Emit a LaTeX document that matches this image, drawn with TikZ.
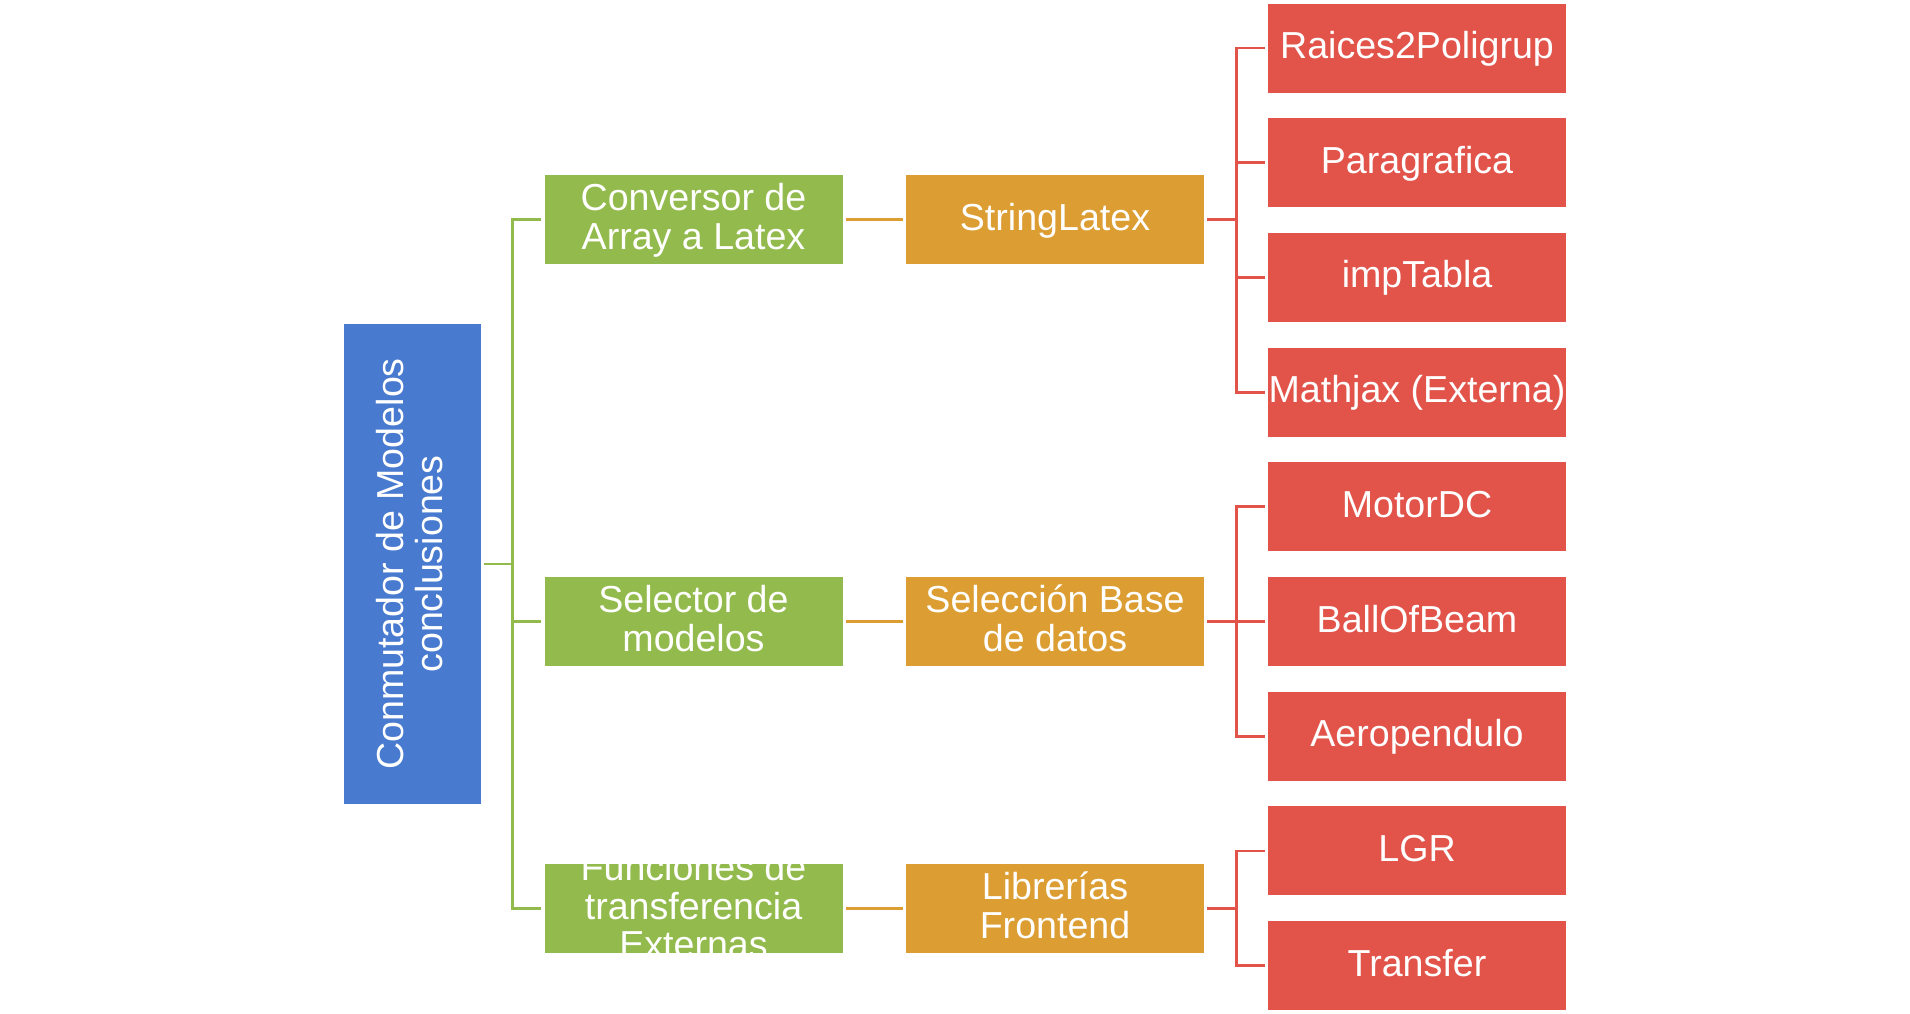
\documentclass[tikz,border=0pt]{standalone}
\usepackage{fontspec}
\setmainfont{Liberation Sans}
\definecolor{cblue}{RGB}{72,122,208}
\definecolor{cgreen}{RGB}{146,186,76}
\definecolor{corange}{RGB}{220,157,50}
\definecolor{cred}{RGB}{226,83,74}
\newcommand\sst{\rule[-8.5pt]{0pt}{38pt}}
\begin{document}
\begin{tikzpicture}[x=1pt,y=-1pt,
  box/.style={rectangle,draw=none,minimum width=298pt,minimum height=89pt,inner sep=0pt,
    text=white,align=center,font=\fontsize{37.6}{38.7}\selectfont},
  gbox/.style={box,fill=cgreen},
  obox/.style={box,fill=corange},
  rbox/.style={box,fill=cred},
  bbox/.style={box,fill=cblue,minimum width=137pt,minimum height=480pt},
  ttxt/.style={inner sep=0pt,text=white,align=center,font=\fontsize{37.6}{38.7}\selectfont},
  gline/.style={draw=cgreen,line width=2.8pt},
  oline/.style={draw=corange,line width=2.8pt},
  rline/.style={draw=cred,line width=2.8pt}]
\useasboundingbox (0,0) rectangle (1910,1013);
% root
\node[bbox] (root) at (412.5,564) {};
\node[ttxt,rotate=90] (roottxt) at (root.center) {\sst Conmutador de Modelos\\\sst conclusiones};
% level 1
\node[gbox] (g1) at (693.5,219.5) {\sst Conversor de\\\sst Array a Latex};
\node[gbox] (g2) at (693.5,621.5) {\sst Selector de\\\sst modelos};
\node[gbox] (g3) at (693.5,908.5) {};
\begin{scope}
  \clip (g3.north west) rectangle (g3.south east);
  \node[ttxt] (g3txt) at (g3.center) {\sst Funciones de\\\sst transferencia\\\sst Externas};
\end{scope}
% level 2
\node[obox] (o1) at (1055,219.5) {\sst StringLatex};
\node[obox] (o2) at (1055,621.5) {\sst Selección Base\\\sst de datos};
\node[obox] (o3) at (1055,908.5) {\sst Librerías\\\sst Frontend};
% level 3
\node[rbox] (r1) at (1417,48.0)  {\sst Raices2Poligrup};
\node[rbox] (r2) at (1417,162.7) {\sst Paragrafica};
\node[rbox] (r3) at (1417,277.4) {\sst impTabla};
\node[rbox] (r4) at (1417,392.1) {\sst Mathjax (Externa)};
\node[rbox] (r5) at (1417,506.8) {\sst MotorDC};
\node[rbox] (r6) at (1417,621.5) {\sst BallOfBeam};
\node[rbox] (r7) at (1417,736.2) {\sst Aeropendulo};
\node[rbox] (r8) at (1417,850.9) {\sst LGR};
\node[rbox] (r9) at (1417,965.6) {\sst Transfer};
% connectors root -> level 1
\foreach \g in {g1,g2,g3}
  \draw[gline] ([xshift=3pt]root.east) -- ++(28,0) |- ([xshift=-3pt]\g.west);
% level 1 -> level 2
\draw[oline] ([xshift=3pt]g1.east) -- ([xshift=-3pt]o1.west);
\draw[oline] ([xshift=3pt]g2.east) -- ([xshift=-3pt]o2.west);
\draw[oline] ([xshift=3pt]g3.east) -- ([xshift=-3pt]o3.west);
% level 2 -> level 3
\foreach \r in {r1,r2,r3,r4}
  \draw[rline] ([xshift=3pt]o1.east) -- ++(29,0) |- ([xshift=-3pt]\r.west);
\foreach \r in {r5,r6,r7}
  \draw[rline] ([xshift=3pt]o2.east) -- ++(29,0) |- ([xshift=-3pt]\r.west);
\foreach \r in {r8,r9}
  \draw[rline] ([xshift=3pt]o3.east) -- ++(29,0) |- ([xshift=-3pt]\r.west);
\end{tikzpicture}
\end{document}
